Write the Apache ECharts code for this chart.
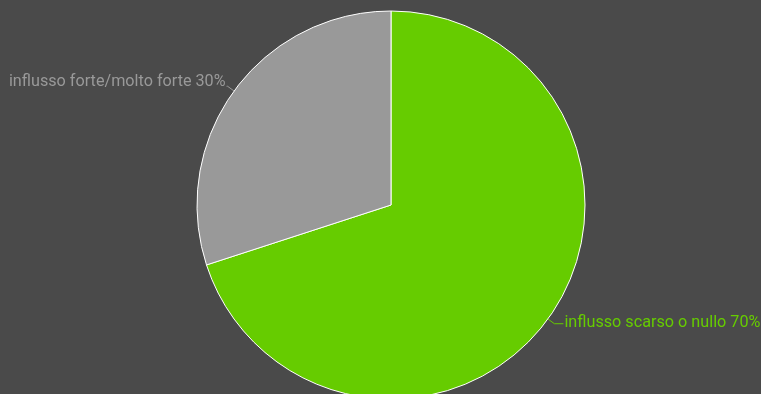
<!DOCTYPE html>
<html><head><meta charset="utf-8">
<script src="https://cdn.jsdelivr.net/npm/echarts@6/dist/echarts.min.js"></script>
<style>html,body{margin:0;padding:0;background:#4a4a4a;}#c{width:761px;height:394px;}</style>
</head><body><div id="c"></div>
<script>
const categories = ['influsso scarso o nullo', 'influsso forte/molto forte'];
const values = [70, 30];
const colors = ['#66cc00', '#999999'];
const chart = echarts.init(document.getElementById('c'));
chart.setOption({
  backgroundColor: '#4a4a4a',
  animation: false,
  series: [{
    type: 'pie',
    center: [391, 205],
    radius: 194,
    startAngle: 90,
    clockwise: true,
    data: categories.map((c, i) => ({
      name: c, value: values[i],
      itemStyle: { color: colors[i] },
      label: { color: colors[i] },
      labelLine: { length2: i === 0 ? 9 : 1, lineStyle: { color: colors[i] } }
    })),
    itemStyle: { borderColor: '#ffffff', borderWidth: 1 },
    label: {
      formatter: p => p.name + ' ' + p.value + '%',
      fontFamily: 'Roboto', fontSize: 16.2, distanceToLabelLine: 1,
      overflow: 'none', edgeDistance: 0
    },
    labelLine: { length: 8, length2: 5, lineStyle: { width: 1 } },
    labelLayout: p => ({ dy: p.dataIndex === 0 ? -1 : -4 })
  }]
});
</script></body></html>
